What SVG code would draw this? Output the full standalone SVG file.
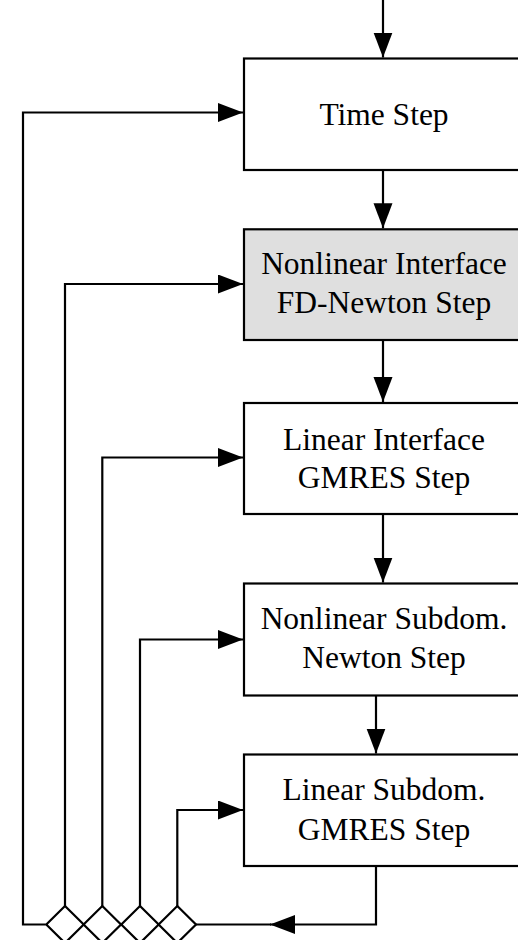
<svg xmlns="http://www.w3.org/2000/svg" width="518" height="940" viewBox="0 0 518 940">
<style>
.box{fill:#ffffff;stroke:#000;stroke-width:2.2}
.gray{fill:#dfdfdf}
.lbl{font-family:"Liberation Serif","Times New Roman",serif;font-size:31.5px;fill:#000;text-anchor:middle}
.ln{fill:none;stroke:#000;stroke-width:2.2}
.dm{fill:#ffffff;stroke:#000;stroke-width:2.2}
</style>
<defs>
<marker id="ah" markerUnits="userSpaceOnUse" markerWidth="26" markerHeight="20" refX="25" refY="9.5" orient="auto">
<path d="M0,0 L25,9.5 L0,19 z" fill="#000"/>
</marker>
</defs>
<rect x="0" y="0" width="518" height="940" fill="#fff"/>
<g id="node-time">
<rect class="box" x="244" y="58.5" width="290" height="111.5"/>
<text class="lbl" x="384" y="124.5">Time Step</text>
</g>
<g id="node-nl-interface">
<rect class="box gray" x="244" y="229.3" width="290" height="110.7"/>
<text class="lbl" x="384" y="273.5">Nonlinear Interface</text>
<text class="lbl" x="384" y="312.5">FD-Newton Step</text>
</g>
<g id="node-lin-interface">
<rect class="box" x="244" y="403" width="290" height="111"/>
<text class="lbl" x="384" y="449.5">Linear Interface</text>
<text class="lbl" x="384" y="488">GMRES Step</text>
</g>
<g id="node-nl-subdom">
<rect class="box" x="244" y="583.5" width="290" height="112"/>
<text class="lbl" x="384" y="628.5">Nonlinear Subdom.</text>
<text class="lbl" x="384" y="668">Newton Step</text>
</g>
<g id="node-lin-subdom">
<rect class="box" x="244" y="754.5" width="290" height="111.5"/>
<text class="lbl" x="384" y="800">Linear Subdom.</text>
<text class="lbl" x="384" y="840">GMRES Step</text>
</g>
<g id="connectors">
<path class="ln" d="M383,0 V57.5" marker-end="url(#ah)"/>
<path class="ln" d="M383,170 V228.3" marker-end="url(#ah)"/>
<path class="ln" d="M383,340 V402" marker-end="url(#ah)"/>
<path class="ln" d="M383,514 V582.5" marker-end="url(#ah)"/>
<path class="ln" d="M376,695.5 V753.5" marker-end="url(#ah)"/>
<path class="ln" d="M376,866 V924.5 H270" marker-end="url(#ah)"/>
<path class="ln" d="M271,924.5 H196"/>
<path class="ln" d="M45.7,924.5 H23 V112.5 H243" marker-end="url(#ah)"/>
<path class="ln" d="M65,906 V284 H243" marker-end="url(#ah)"/>
<path class="ln" d="M102.3,906 V457.5 H243" marker-end="url(#ah)"/>
<path class="ln" d="M140,906 V639.5 H243" marker-end="url(#ah)"/>
<path class="ln" d="M177.3,906 V810 H243" marker-end="url(#ah)"/>
<path class="dm" d="M65,906 L83.7,924.5 L65,943 L46.3,924.5 z"/>
<path class="dm" d="M102.3,906 L121,924.5 L102.3,943 L83.6,924.5 z"/>
<path class="dm" d="M140,906 L158.7,924.5 L140,943 L121.3,924.5 z"/>
<path class="dm" d="M177.3,906 L196,924.5 L177.3,943 L158.6,924.5 z"/>
</g>
</svg>
